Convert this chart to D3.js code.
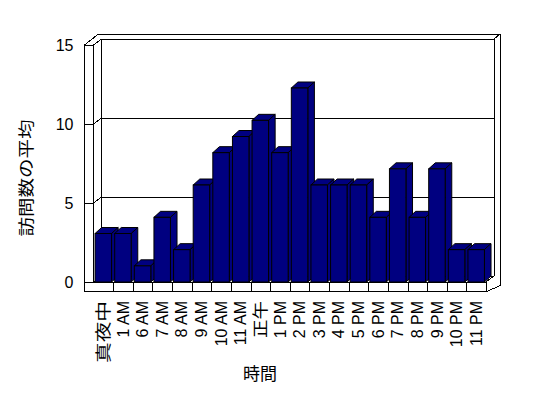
<!DOCTYPE html>
<html>
<head>
<meta charset="utf-8">
<script src="https://cdn.jsdelivr.net/npm/d3@7"></script>
<style>
  body { margin: 0; background: #fff; }
  svg text { font-family: "Liberation Sans", Arial, sans-serif; fill: #000; }
  svg text.cjk { font-family: "Noto Sans CJK JP", sans-serif; }
</style>
</head>
<body>
<div id="vis"></div>
<script>
// data
var hours = ['真夜中', '1 AM', '6 AM', '7 AM', '8 AM', '9 AM', '10 AM', '11 AM', '正午',
             '1 PM', '2 PM', '3 PM', '4 PM', '5 PM', '6 PM', '7 PM', '8 PM', '9 PM', '10 PM', '11 PM'];
var visits = [3, 3, 1, 4, 2, 6, 8, 9, 10, 8, 12, 6, 6, 6, 4, 7, 4, 7, 2, 2];
var yTicks = [0, 5, 10, 15];

var width = 548, height = 398;

// front plane of the 3d box
var x0 = 93.5, x1 = 486;
var floorY = 282, bottomY = 291.7, topY = 45;
var wallW = 9;
var depth = { x: 8, y: -6 };     // front -> back wall
var thick = { x: 6, y: -5 };     // back wall thickness
var barDepth = { x: 6.6, y: -6 };

var svg = d3.select('#vis').append('svg')
    .attr('width', width)
    .attr('height', height);

var x = d3.scaleBand()
    .domain(hours)
    .range([x0, x1])
    .paddingInner(0.16)
    .paddingOuter(0.08);

// wall scale (front edge of the left wall) and bar scale
var yWall = d3.scaleLinear().domain([0, 15]).range([floorY, topY]);
var yBar = d3.scaleLinear().domain([0, 15]).range([floorY, 39.5]);

var frame = svg.append('g')
    .attr('fill', 'none')
    .attr('stroke', '#000')
    .attr('stroke-width', 1)
    .attr('shape-rendering', 'crispEdges');

function line(g, pts) {
    g.append('path').attr('d', d3.line()(pts));
}

var bx0 = x0 + depth.x, bx1 = x1 + depth.x;
var backTop = yWall(15) + depth.y;

// back wall
line(frame, [[bx0, yWall(0) + depth.y], [bx0, backTop], [bx1, backTop], [bx1, yWall(0) + depth.y]]);
line(frame, [[x0 - wallW + depth.x + thick.x, backTop + thick.y], [bx1 + thick.x, backTop + thick.y],
             [bx1 + thick.x, bottomY + depth.y], [x1, bottomY]]);
line(frame, [[bx1, backTop], [bx1 + thick.x, backTop + thick.y]]);

// left wall
line(frame, [[x0 - wallW, bottomY], [x0 - wallW, topY], [x0, topY], [x0, floorY]]);
line(frame, [[x0, topY], [bx0, backTop]]);
line(frame, [[x0 - wallW, topY], [x0 - wallW + depth.x + thick.x, backTop + thick.y]]);

// floor
line(frame, [[x0 - wallW, bottomY], [x1, bottomY], [x1, floorY], [x0, floorY]]);
line(frame, [[x1, floorY], [bx1, floorY + depth.y]]);

// gridlines
yTicks.filter(function (d) { return d < 15; }).forEach(function (v) {
    var yf = yWall(v);
    line(frame, [[x0 - wallW, yf], [x0, yf], [bx0, yf + depth.y], [bx1, yf + depth.y]]);
});

// floor ticks between categories
frame.selectAll('.ftick')
    .data(hours.slice(1))
    .enter().append('line')
    .attr('x1', function (d) { return Math.round(x(d) - x.step() * x.paddingOuter()) + 0.5; })
    .attr('x2', function (d) { return Math.round(x(d) - x.step() * x.paddingOuter()) + 0.5; })
    .attr('y1', floorY)
    .attr('y2', bottomY);

// bars, left to right so each covers the side of the previous one
var bars = svg.append('g')
    .attr('fill', '#000080')
    .attr('stroke', '#000')
    .attr('stroke-width', 1)
    .attr('stroke-linejoin', 'miter');

hours.forEach(function (h, i) {
    var bx = x(h), bw = x.bandwidth(), yt = yBar(visits[i]), yb = yBar(0);
    var g = bars.append('g');
    g.append('path').attr('d', d3.line()([
        [bx, yt], [bx + barDepth.x, yt + barDepth.y], [bx + bw + barDepth.x, yt + barDepth.y], [bx + bw, yt]
    ]) + 'Z');
    g.append('path').attr('d', d3.line()([
        [bx + bw, yt], [bx + bw + barDepth.x, yt + barDepth.y], [bx + bw + barDepth.x, yb + barDepth.y], [bx + bw, yb]
    ]) + 'Z');
    g.append('rect')
        .attr('x', bx)
        .attr('y', yt)
        .attr('width', bw)
        .attr('height', yb - yt);
});

// y tick labels
svg.append('g').selectAll('text')
    .data(yTicks)
    .enter().append('text')
    .attr('x', 73.5)
    .attr('y', function (d) { return yWall(d); })
    .attr('dy', '0.35em')
    .attr('text-anchor', 'end')
    .style('font-size', '16px')
    .text(function (d) { return d; });

// x tick labels (rotated)
var cjkLen = { '真夜中': 62, '正午': 37 };
svg.append('g').selectAll('text')
    .data(hours)
    .enter().append('text')
    .attr('class', function (d) { return cjkLen[d] ? 'cjk' : null; })
    .attr('transform', function (d) { return 'translate(' + (x(d) + x.bandwidth() / 2) + ',301) rotate(-90)'; })
    .attr('dy', '0.35em')
    .attr('text-anchor', 'end')
    .attr('textLength', function (d) { return cjkLen[d] || null; })
    .attr('lengthAdjust', 'spacingAndGlyphs')
    .style('font-size', '16px')
    .text(function (d) { return d; });

// axis titles
svg.append('text')
    .attr('class', 'cjk')
    .attr('transform', 'translate(26,178) rotate(-90)')
    .attr('dy', '0.35em')
    .attr('text-anchor', 'middle')
    .attr('textLength', 117)
    .attr('lengthAdjust', 'spacingAndGlyphs')
    .style('font-size', '16px')
    .text('訪問数の平均');

svg.append('text')
    .attr('class', 'cjk')
    .attr('x', 260)
    .attr('y', 380)
    .attr('text-anchor', 'middle')
    .style('font-size', '17px')
    .text('時間');
</script>
</body>
</html>
